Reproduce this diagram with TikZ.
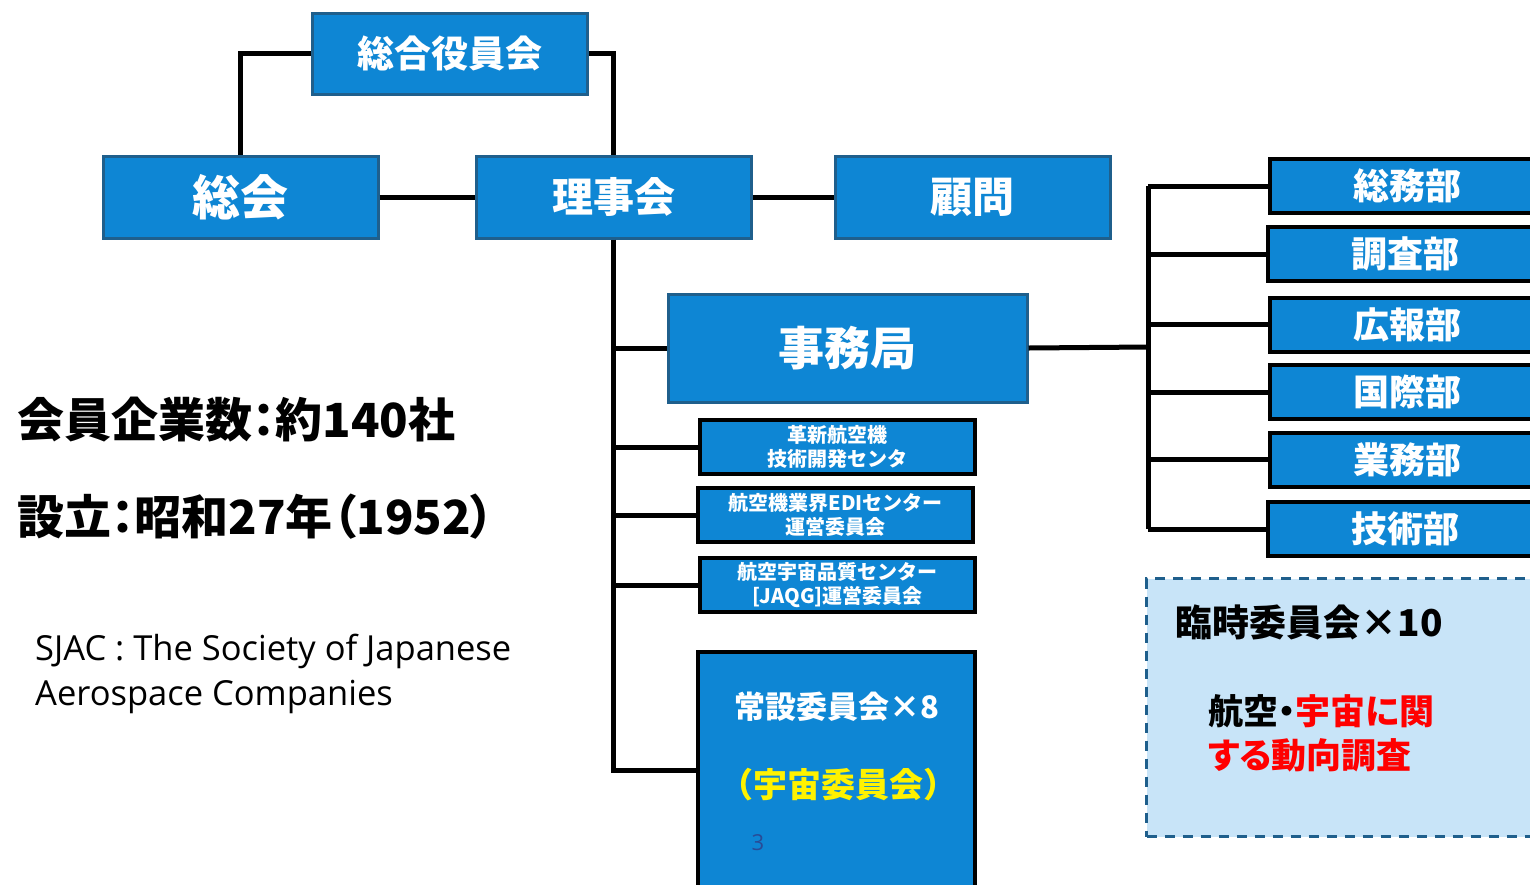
\documentclass[tikz,border=0pt]{standalone}
\usepackage{fontspec}
\usepackage{xcolor}
\usepackage{tikz}
\usetikzlibrary{positioning}
\newfontfamily\jp{Noto Sans CJK JP}
\newfontfamily\jpp{Noto Sans CJK JP}[RawFeature=+palt]
\newfontfamily\latin{Open Sans}

\definecolor{boxblue}{RGB}{14,134,212}
\definecolor{edgeblue}{RGB}{31,95,140}
\definecolor{notefill}{RGB}{200,228,248}
\definecolor{pagenum}{RGB}{40,75,150}

\tikzset{
  orgbox/.style={draw=edgeblue, line width=3pt, fill=boxblue, text=white,
    inner sep=0pt, minimum width=275pt, minimum height=82pt},
  subbox/.style={orgbox, draw=black, line width=4pt, minimum height=54pt, align=center,
    font=\jp\bfseries\fontsize{20}{24}\selectfont},
  deptbox/.style={subbox, font=\jp\bfseries\fontsize{36}{40}\selectfont},
  link/.style={line width=5pt, black},
}

\begin{document}
\begin{tikzpicture}[x=1pt,y=-1pt]
  \useasboundingbox (0,0) rectangle (1530,884);
  \clip (0,0) rectangle (1530,884);

  % top level
  \node[orgbox, minimum height=81pt, font=\jp\bfseries\fontsize{37}{40}\selectfont] (yakuin) at (450,53.5) {総合役員会};
  \node[orgbox, font=\jp\bfseries\fontsize{48}{50}\selectfont] (sokai) at (240.5,197) {総会};
  \node[orgbox, font=\jp\bfseries\fontsize{41}{44}\selectfont] (rijikai) at (613.5,197) {理事会};
  \node[orgbox, font=\jp\bfseries\fontsize{42}{44}\selectfont] (komon) at (972.5,197) {顧問};
  \node[orgbox, minimum width=359pt, minimum height=108pt, font=\jp\bfseries\fontsize{46}{50}\selectfont] (jimu) at (847.5,348) {事務局};

  % under the board
  \node[subbox] (kakushin) at (837.5,447) {革新航空機\\技術開発センタ};
  \node[subbox] (edi) at (835.5,515) {航空機業界EDIセンター\\運営委員会};
  \node[subbox] (jaqg) at (837.5,585) {航空宇宙品質センター\\{[JAQG]}運営委員会};
  \node[subbox, minimum width=277pt, minimum height=236pt] (josetsu) at (836.5,770) {};
  \node[text=white, font=\jp\bfseries\fontsize{31}{34}\selectfont] (josetsuT) at (837,707) {常設委員会×8};
  \node[text=yellow, font=\jp\bfseries\fontsize{34}{36}\selectfont] (uchu) at (838,785) {（宇宙委員会）};
  \node[text=pagenum, font=\latin\fontsize{22}{24}\selectfont] (pnum) at (758,843) {3};

  % departments
  \node[deptbox] (soumu) at (1407.5,186) {総務部};
  \node[deptbox] (chousa) at (1405.5,254) {調査部};
  \node[deptbox] (kouhou) at (1407.5,324.5) {広報部};
  \node[deptbox] (kokusai) at (1407.5,392) {国際部};
  \node[deptbox] (gyoumu) at (1407.5,459.5) {業務部};
  \node[deptbox] (gijutsu) at (1405.5,529) {技術部};
  \coordinate (hub) at (1148,347);

  % ad hoc committees
  \node[draw=edgeblue, line width=3pt, dash pattern=on 10pt off 8pt, fill=notefill,
    minimum width=420pt, minimum height=258pt, anchor=north west] (rinji) at (1145,577) {};
  \node[anchor=west, font=\jp\bfseries\fontsize{37}{40}\selectfont] (rinjiT) at (1172,622) {臨時委員会×10};
  \node[anchor=north west, align=left, inner sep=0pt, font=\jpp\bfseries\fontsize{35}{44}\selectfont] (doukou) at (1208,694)
    {航空・\textcolor{red}{宇宙に関}\\\textcolor{red}{する動向調査}};

  % connectors
  \draw[link] (yakuin.west) -| (sokai.north);
  \draw[link] (yakuin.east) -| (rijikai.north);
  \draw[link] (sokai.east) -- (rijikai.west);
  \draw[link] (rijikai.east) -- (komon.west);
  \draw[link] (rijikai.south) |- (josetsu.west);
  \foreach \n in {jimu,kakushin,edi,jaqg}
    \draw[link] (rijikai.south |- \n.west) -- (\n.west);
  \draw[link] (jimu.east) -- (hub);
  \draw[link] (hub |- soumu.west) -- (hub |- gijutsu.west);
  \foreach \n in {soumu,chousa,kouhou,kokusai,gyoumu,gijutsu}
    \draw[link] (hub |- \n.west) -- (\n.west);

  % notes on the left
  \node[anchor=west, inner sep=0pt, font=\jpp\bfseries\fontsize{47}{50}\selectfont] (members) at (17,420) {会員企業数：約140社};
  \node[anchor=west, inner sep=0pt, font=\jpp\bfseries\fontsize{47}{50}\selectfont] (founded) at (17,517) {設立：昭和27年（1952）};
  \node[anchor=north west, align=left, inner sep=0pt, font=\latin\fontsize{34.5}{45}\selectfont] (sjac) at (35,634)
    {SJAC : The Society of Japanese\\Aerospace Companies};
\end{tikzpicture}
\end{document}
